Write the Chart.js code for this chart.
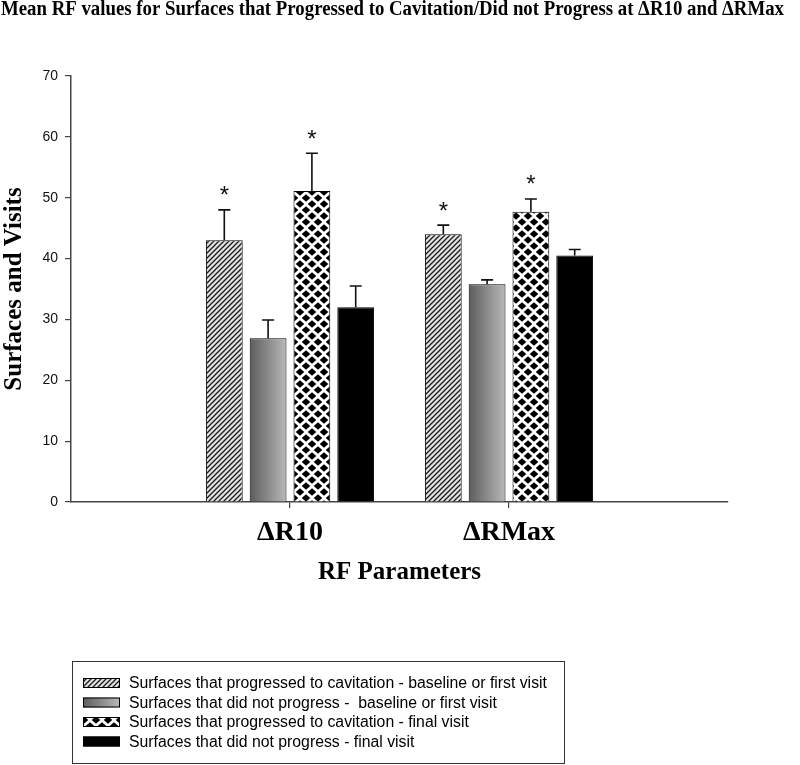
<!DOCTYPE html>
<html>
<head>
<meta charset="utf-8">
<title>Mean RF values</title>
<script src="https://cdn.jsdelivr.net/npm/chart.js@4.4.1/dist/chart.umd.min.js"></script>
<style>
  html, body { margin: 0; padding: 0; background: #fff; }
  #wrap { width: 800px; height: 765px; }
</style>
</head>
<body>
<div id="wrap"><canvas id="myCanvas" width="800" height="765"></canvas></div>
<script>
'use strict';

// chart data

const chartTitle = 'Mean RF values for Surfaces that Progressed to Cavitation/Did not Progress at \u0394R10 and \u0394RMax';
const categories = ['\u0394R10', '\u0394RMax'];
const seriesLabels = [
  'Surfaces that progressed to cavitation - baseline or first visit',
  'Surfaces that did not progress -  baseline or first visit',
  'Surfaces that progressed to cavitation - final visit',
  'Surfaces that did not progress - final visit'
];
const progressedBaseline = [43.0, 44.0];
const notProgressedBaseline = [26.9, 35.8];
const progressedFinal = [51.1, 47.7];
const notProgressedFinal = [32.0, 40.5];
// upper error bars (length above the bar)
const progressedBaselineErr = [5.0, 1.5];
const notProgressedBaselineErr = [3.0, 0.7];
const progressedFinalErr = [6.2, 2.1];
const notProgressedFinalErr = [3.5, 1.0];
// asterisk above bar
const progressedBaselineSig = [true, true];
const notProgressedBaselineSig = [false, false];
const progressedFinalSig = [true, true];
const notProgressedFinalSig = [false, false];
const yTicks = [0, 10, 20, 30, 40, 50, 60, 70];

const serif = '"Liberation Serif", "Times New Roman", serif';
const sans = '"Liberation Sans", Arial, sans-serif';

// fill patterns

function makeHatch() {
  const c = document.createElement('canvas');
  c.width = 5;
  c.height = 5;
  const ctx = c.getContext('2d');
  ctx.fillStyle = '#e2e2e2';
  ctx.fillRect(0, 0, 5, 5);
  ctx.strokeStyle = '#1c1c1c';
  ctx.lineWidth = 1.3;
  for (let k = 0; k <= 10; k += 5) {
    ctx.beginPath();
    ctx.moveTo(k - 5 - 1, 5 + 1);
    ctx.lineTo(k + 1, -1);
    ctx.stroke();
  }
  return ctx.createPattern(c, 'repeat');
}

function makeDiamonds() {
  const c = document.createElement('canvas');
  c.width = 12;
  c.height = 12;
  const ctx = c.getContext('2d');
  ctx.fillStyle = '#ffffff';
  ctx.fillRect(0, 0, 12, 12);
  ctx.fillStyle = '#000000';
  const centers = [[0, 0], [12, 0], [0, 12], [12, 12], [6, 6]];
  for (let i = 0; i < centers.length; i++) {
    const cx = centers[i][0];
    const cy = centers[i][1];
    ctx.beginPath();
    ctx.moveTo(cx - 4.3, cy);
    ctx.lineTo(cx, cy - 3.7);
    ctx.lineTo(cx + 4.3, cy);
    ctx.lineTo(cx, cy + 3.7);
    ctx.closePath();
    ctx.fill();
  }
  return ctx.createPattern(c, 'repeat');
}

function greyGradient(ctx, x0, x1) {
  const g = ctx.createLinearGradient(x0, 0, x1, 0);
  g.addColorStop(0, '#5c5c5c');
  g.addColorStop(1, '#b9b9b9');
  return g;
}

const hatchFill = makeHatch();
const diamondFill = makeDiamonds();

function gradientFill(context) {
  const el = context.element;
  if (!el || el.x === undefined || el.width === undefined) {
    return '#8a8a8a';
  }
  return greyGradient(context.chart.ctx, el.x - el.width / 2, el.x + el.width / 2);
}

function toPoints(values) {
  return values.map((v, i) => ({ x: i + 1, y: v }));
}

// plugins

const titlePlugin = {
  id: 'fittedTitle',
  afterDraw(chart) {
    const ctx = chart.ctx;
    ctx.save();
    ctx.font = 'bold 20px ' + serif;
    ctx.fillStyle = '#000';
    ctx.textBaseline = 'alphabetic';
    const w = ctx.measureText(chartTitle).width;
    ctx.translate(1, 15);
    ctx.scale(783 / w, 1);
    ctx.fillText(chartTitle, 0, 0);
    ctx.restore();
  }
};

const errorPlugin = {
  id: 'errorBars',
  afterDatasetsDraw(chart) {
    const ctx = chart.ctx;
    const yScale = chart.scales.y;
    ctx.save();
    chart.data.datasets.forEach((ds, i) => {
      const meta = chart.getDatasetMeta(i);
      meta.data.forEach((bar, j) => {
        const top = yScale.getPixelForValue(ds.values[j] + ds.errors[j]);
        ctx.strokeStyle = '#111';
        ctx.lineWidth = 1.6;
        ctx.beginPath();
        ctx.moveTo(bar.x, bar.y);
        ctx.lineTo(bar.x, top);
        ctx.moveTo(bar.x - 6, top);
        ctx.lineTo(bar.x + 6, top);
        ctx.stroke();
        if (ds.marks[j]) {
          ctx.fillStyle = '#111';
          ctx.font = '24px ' + sans;
          ctx.textAlign = 'center';
          ctx.textBaseline = 'alphabetic';
          ctx.fillText('*', bar.x, top - 20 + 13.5);
        }
      });
    });
    ctx.restore();
  }
};

const legendPlugin = {
  id: 'boxLegend',
  afterDraw(chart) {
    const ctx = chart.ctx;
    ctx.save();
    ctx.strokeStyle = '#333';
    ctx.lineWidth = 1;
    ctx.strokeRect(72.5, 661.5, 492, 102);
    chart.data.datasets.forEach((ds, i) => {
      const y = 683 + i * 19.5;
      const fill = i === 1 ? greyGradient(ctx, 83, 120) : ds.swatch;
      ctx.fillStyle = fill;
      ctx.fillRect(83, y - 5, 37, 10);
      ctx.strokeStyle = '#000';
      ctx.strokeRect(83.5, y - 4.5, 36, 9);
      ctx.fillStyle = '#000';
      ctx.font = '15.8px ' + sans;
      ctx.textAlign = 'left';
      ctx.textBaseline = 'middle';
      ctx.fillText(ds.label, 129, y + 1);
    });
    ctx.restore();
  }
};

// build chart

function makeDataset(label, values, errors, marks, fill) {
  return {
    label: label,
    data: toPoints(values),
    values: values,
    errors: errors,
    marks: marks,
    swatch: fill,
    backgroundColor: fill,
    borderColor: '#000',
    borderWidth: 1,
    categoryPercentage: 0.8,
    barPercentage: 0.84
  };
}

const config = {
  type: 'bar',
  data: {
    datasets: [
      makeDataset(seriesLabels[0], progressedBaseline, progressedBaselineErr, progressedBaselineSig, hatchFill),
      makeDataset(seriesLabels[1], notProgressedBaseline, notProgressedBaselineErr, notProgressedBaselineSig, gradientFill),
      makeDataset(seriesLabels[2], progressedFinal, progressedFinalErr, progressedFinalSig, diamondFill),
      makeDataset(seriesLabels[3], notProgressedFinal, notProgressedFinalErr, notProgressedFinalSig, '#000000')
    ]
  },
  options: {
    responsive: false,
    animation: false,
    events: [],
    layout: { padding: { top: 76, right: 72, bottom: 177, left: 0 } },
    plugins: {
      legend: { display: false },
      title: { display: false },
      tooltip: { enabled: false }
    },
    scales: {
      x: {
        type: 'linear',
        min: 0,
        max: 3,
        offset: false,
        afterBuildTicks(scale) {
          scale.ticks = categories.map((c, i) => ({ value: i + 1 }));
        },
        afterFit(scale) {
          scale.height = 86;
        },
        grid: { offset: false, drawOnChartArea: false, drawTicks: true, tickLength: 6, color: '#444', lineWidth: 1.2 },
        border: { display: true, color: '#444', width: 1.5 },
        ticks: {
          padding: 8,
          color: '#000',
          font: { family: serif, size: 28, weight: 'bold' },
          callback: (value) => categories[value - 1] || ''
        },
        title: {
          display: true,
          text: 'RF Parameters',
          color: '#000',
          padding: 0,
          font: { family: serif, size: 25, weight: 'bold' }
        }
      },
      y: {
        min: 0,
        max: 70,
        afterBuildTicks(scale) {
          scale.ticks = yTicks.map(v => ({ value: v }));
        },
        afterFit(scale) {
          scale.width = 71;
        },
        grid: { drawOnChartArea: false, drawTicks: true, tickLength: 6, color: '#444', lineWidth: 1.2 },
        border: { display: true, color: '#444', width: 1.5 },
        ticks: {
          padding: 7,
          color: '#111',
          font: { family: sans, size: 14 }
        },
        title: {
          display: true,
          text: 'Surfaces and Visits',
          color: '#000',
          padding: 0,
          font: { family: serif, size: 25, weight: 'bold' }
        }
      }
    }
  },
  plugins: [titlePlugin, errorPlugin, legendPlugin]
};

const chart = document.getElementById('myCanvas');
const myChart = new Chart(chart, config);
// second pass so the gradient bars know their own position
myChart.update();
</script>
</body>
</html>
